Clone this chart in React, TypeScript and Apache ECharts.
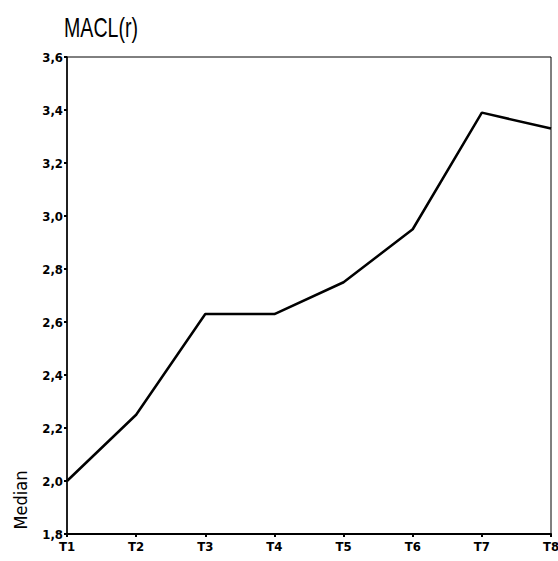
import React, { useEffect, useRef } from "react";
import * as echarts from "echarts";

const categories = ["T1", "T2", "T3", "T4", "T5", "T6", "T7", "T8"];
const medianValues = [2.0, 2.25, 2.63, 2.63, 2.75, 2.95, 3.39, 3.33];
const yMin = 1.8;
const yMax = 3.6;
const yStep = 0.2;

const FONT = "'DejaVu Sans Condensed', 'Liberation Sans Narrow', 'Liberation Sans', Arial, sans-serif";
const TITLE_FONT = "'Liberation Sans', Arial, sans-serif";

export default function App() {
  const ref = useRef<HTMLDivElement>(null);
  useEffect(() => {
    if (!ref.current) return;
    const chart = echarts.init(ref.current, null, { renderer: "svg" });
    chart.setOption({
      animation: false,
      backgroundColor: "#ffffff",
      grid: {
        left: 67, right: 7, top: 57, bottom: 27,
        outerBoundsMode: "none",
        containLabel: false,
        show: true, borderColor: "#000", borderWidth: 1, backgroundColor: "transparent",
      },
      xAxis: {
        type: "category",
        data: categories,
        boundaryGap: false,
        axisLine: { show: true, lineStyle: { color: "#000", width: 2 } },
        axisTick: { show: true, inside: false, length: 3, lineStyle: { color: "#000", width: 2 } },
        axisLabel: { color: "#000", fontFamily: FONT, fontSize: 13, fontWeight: "bold", margin: 6 },
        splitLine: { show: false },
      },
      yAxis: {
        type: "value",
        min: yMin,
        max: yMax,
        interval: yStep,
        axisLine: { show: true, lineStyle: { color: "#000", width: 1.5 } },
        axisTick: { show: true, inside: false, length: 3, lineStyle: { color: "#000", width: 2 } },
        axisLabel: {
          color: "#000",
          fontFamily: FONT,
          fontSize: 13,
          fontWeight: "bold",
          margin: 4,
          formatter: (v: number) => v.toFixed(1).replace(".", ","),
        },
        splitLine: { show: false },
      },
      graphic: [
        {
          type: "text",
          x: 64,
          y: 27,
          scaleX: 0.7,
          style: {
            text: "MACL(r)",
            fontFamily: TITLE_FONT,
            fontSize: 28,
            fill: "#000",
            align: "left",
            verticalAlign: "middle",
          },
        },
        {
          type: "text",
          x: 20,
          y: 500,
          rotation: Math.PI / 2,
          style: {
            text: "Median",
            fontFamily: FONT,
            fontSize: 18,
            fill: "#000",
            align: "center",
            verticalAlign: "middle",
          },
        },
      ],
      series: [
        {
          type: "line",
          data: medianValues,
          symbol: "none",
          lineStyle: { color: "#000", width: 2.5 },
        },
      ],
    });
    return () => chart.dispose();
  }, []);
  return <div ref={ref} style={{ width: 558, height: 561, position: "absolute", left: 0, top: 0 }} />;
}
